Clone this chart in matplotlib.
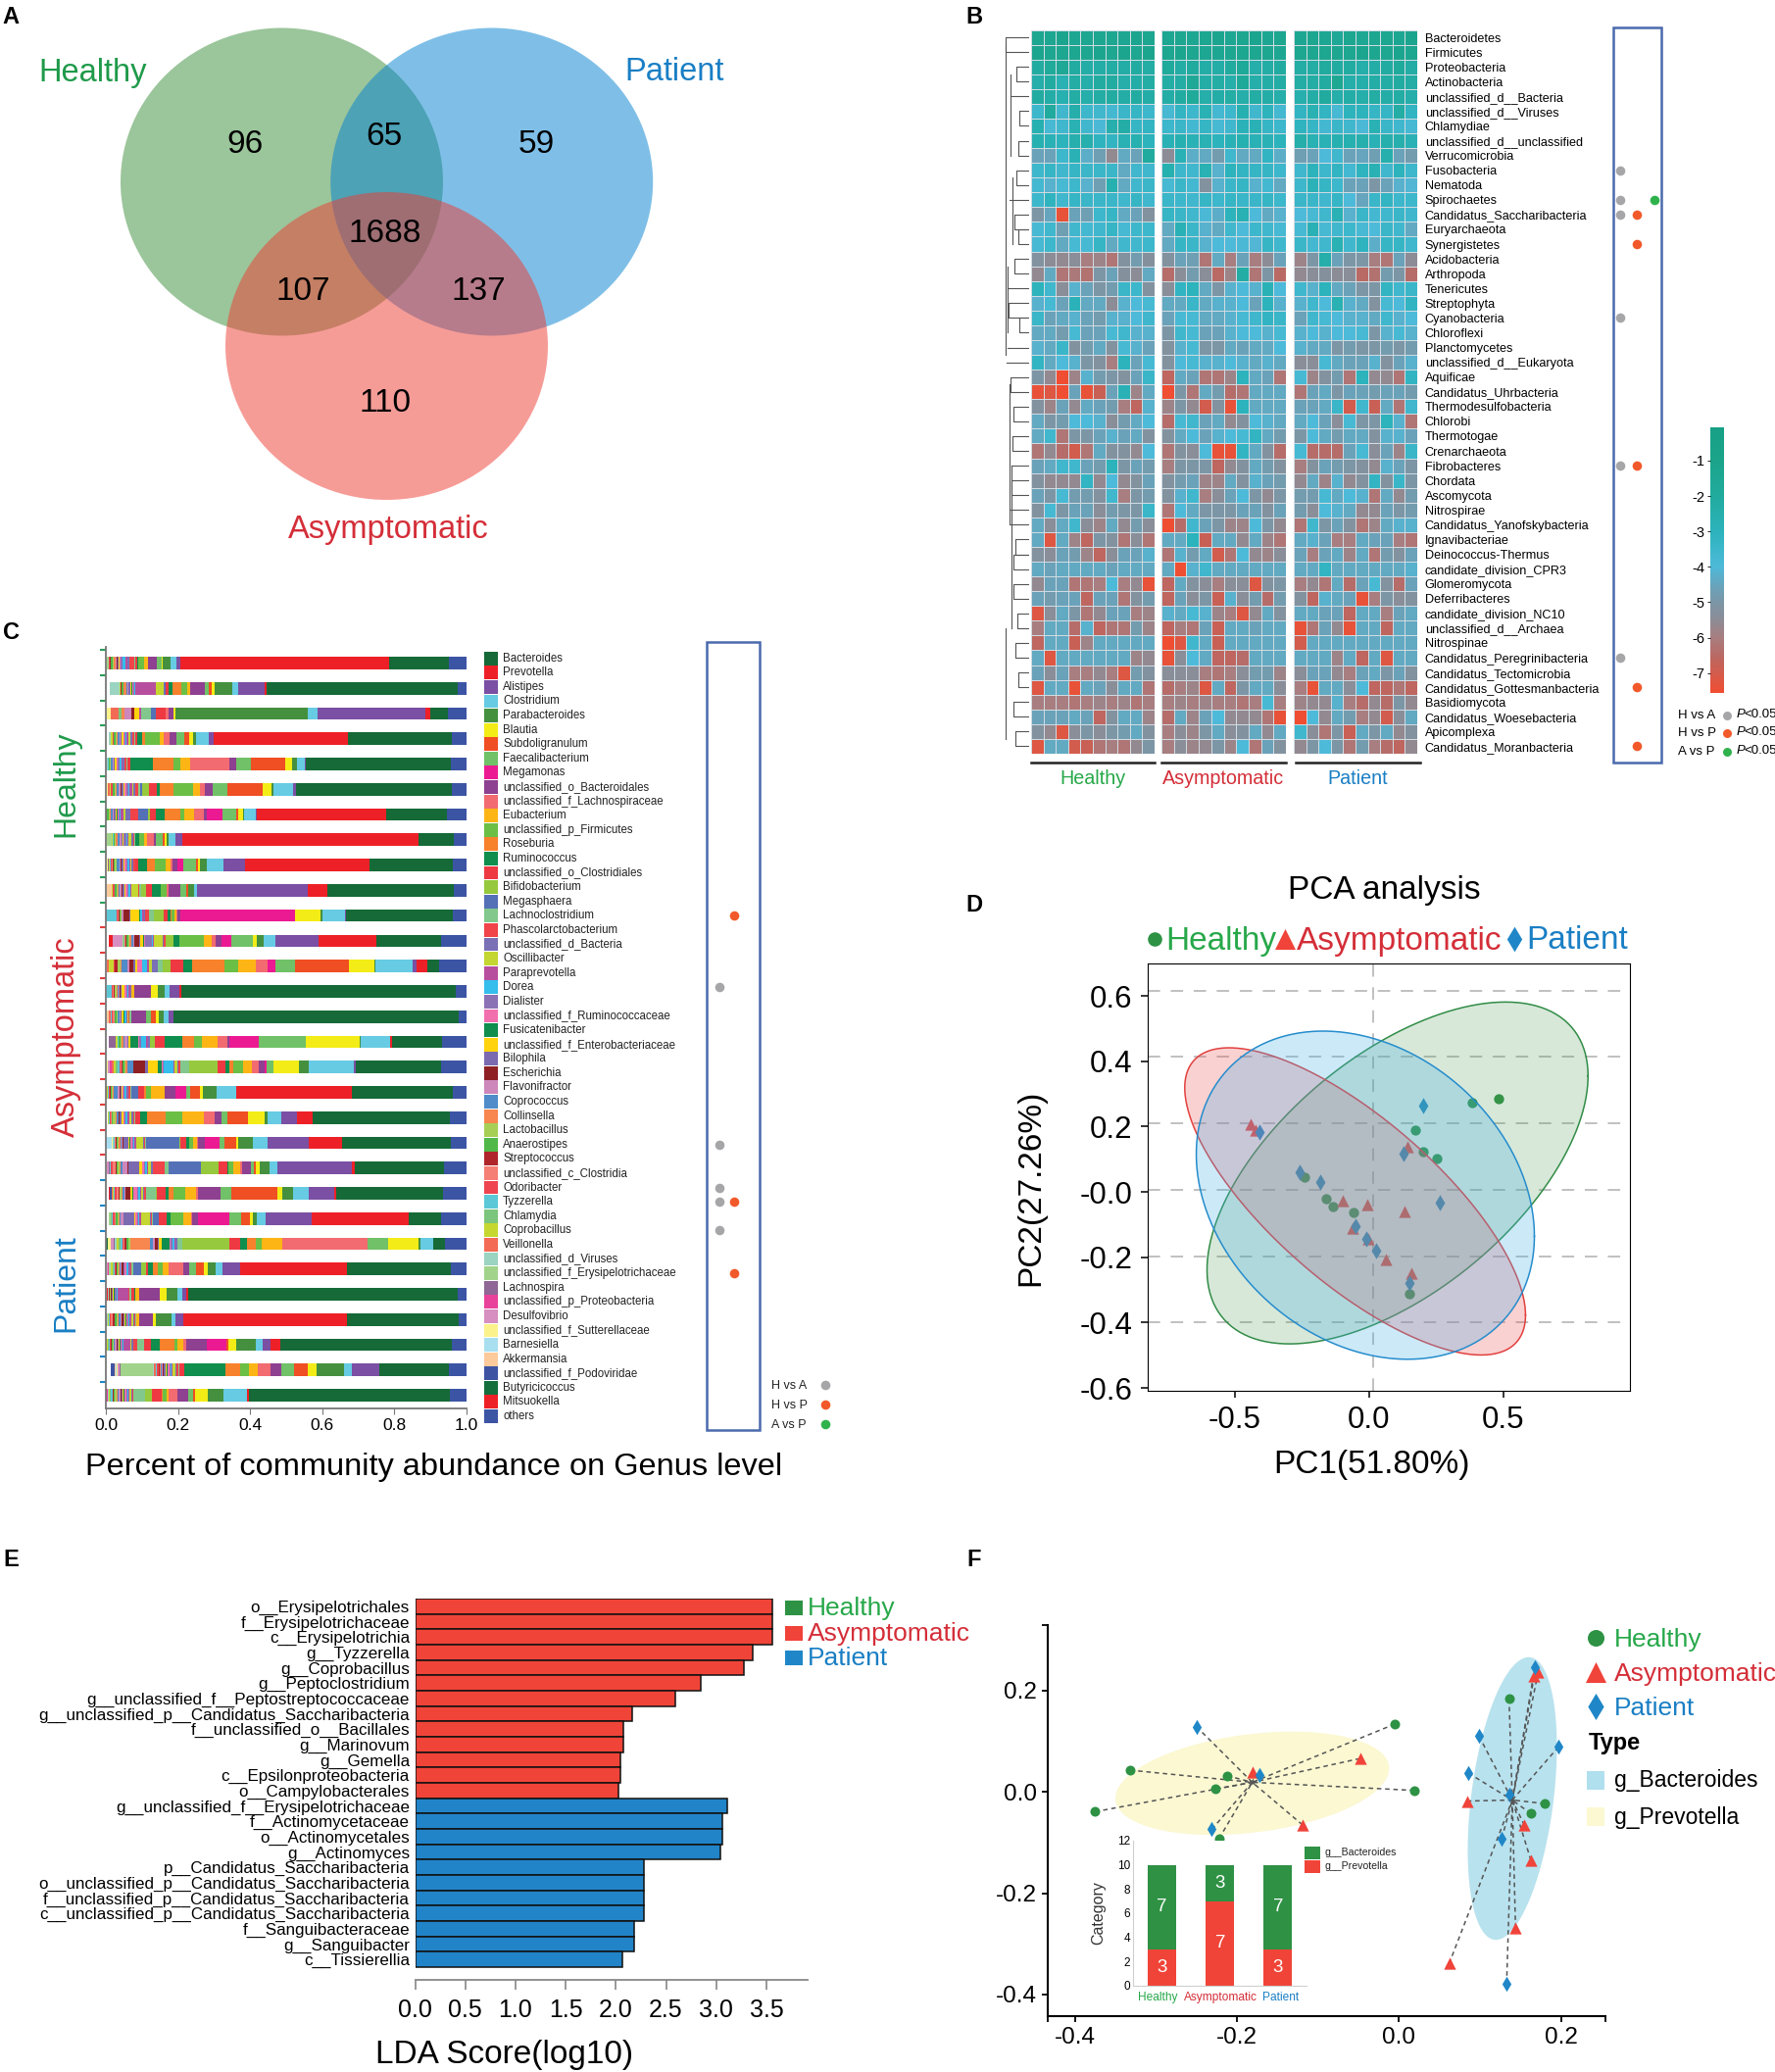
import numpy as np
import matplotlib
matplotlib.use('Agg')
import matplotlib.pyplot as plt
from matplotlib.colors import LinearSegmentedColormap, Normalize
from matplotlib.colorbar import ColorbarBase
from matplotlib.patches import Ellipse, Rectangle

plt.rcParams['font.family'] = ['Liberation Sans', 'DejaVu Sans']

W, H = 1811, 2114
GREEN, RED, BLUE = '#27a84a', '#d42e38', '#1a7fc4'
M_GREEN, M_RED, M_BLUE = '#2e9244', '#f0433a', '#1f87c8'
DOT_GREY, DOT_ORANGE, DOT_GREEN = '#a6a6a8', '#f2592a', '#2fb24c'

# ---- panel A
venn_names = ['Healthy', 'Patient', 'Asymptomatic']
venn_counts = ['96', '65', '59', '1688', '107', '137', '110']

# ---- panel B
phyla = ['Bacteroidetes', 'Firmicutes', 'Proteobacteria', 'Actinobacteria', 'unclassified_d__Bacteria',
         'unclassified_d__Viruses', 'Chlamydiae', 'unclassified_d__unclassified', 'Verrucomicrobia',
         'Fusobacteria', 'Nematoda', 'Spirochaetes', 'Candidatus_Saccharibacteria', 'Euryarchaeota',
         'Synergistetes', 'Acidobacteria', 'Arthropoda', 'Tenericutes', 'Streptophyta', 'Cyanobacteria',
         'Chloroflexi', 'Planctomycetes', 'unclassified_d__Eukaryota', 'Aquificae', 'Candidatus_Uhrbacteria',
         'Thermodesulfobacteria', 'Chlorobi', 'Thermotogae', 'Crenarchaeota', 'Fibrobacteres', 'Chordata',
         'Ascomycota', 'Nitrospirae', 'Candidatus_Yanofskybacteria', 'Ignavibacteriae', 'Deinococcus-Thermus',
         'candidate_division_CPR3', 'Glomeromycota', 'Deferribacteres', 'candidate_division_NC10',
         'unclassified_d__Archaea', 'Nitrospinae', 'Candidatus_Peregrinibacteria', 'Candidatus_Tectomicrobia',
         'Candidatus_Gottesmanbacteria', 'Basidiomycota', 'Candidatus_Woesebacteria', 'Apicomplexa',
         'Candidatus_Moranbacteria']

# log abundance x -10, one row per phylum, 10 samples per group
heat_tenths = [
    [13,13,12,14,13,13,13,14,12,13, 14,13,14,13,12,14,13,12,14,13, 14,13,14,16,13,15,13,13,14,12],
    [12,13,13,13,13,12,13,12,13,12, 13,12,13,14,14,13,13,13,13,14, 13,13,13,13,13,12,13,13,12,13],
    [21,18,16,21,23,23,22,23,21,22, 19,22,20,23,23,20,17,24,22,21, 22,22,20,21,21,24,23,21,19,22],
    [24,21,27,22,24,21,21,24,23,22, 22,22,16,23,22,24,17,24,23,22, 22,22,21,15,24,24,23,22,21,22],
    [21,23,26,22,24,22,21,23,21,23, 23,21,18,24,23,22,24,22,23,24, 25,23,20,24,23,24,22,23,22,24],
    [35,20,36,24,35,36,37,34,33,35, 38,32,35,27,37,35,26,36,30,37, 32,27,32,38,30,30,33,33,22,32],
    [26,38,36,27,36,39,25,23,33,32, 35,34,37,33,38,36,29,28,33,35, 31,33,37,34,36,39,27,34,36,38],
    [26,28,30,25,25,31,32,27,26,30, 28,26,28,27,30,28,26,28,28,30, 24,27,28,26,26,25,28,25,25,28],
    [46,46,35,28,43,47,56,44,46,20, 55,28,43,44,48,36,44,44,32,43, 47,46,40,36,46,45,47,25,46,48],
    [35,33,36,33,34,34,34,44,36,36, 26,35,36,27,42,30,32,33,33,35, 36,30,35,32,37,31,27,36,30,35],
    [37,42,38,35,42,47,26,44,36,34, 38,34,37,52,42,34,33,42,37,44, 35,29,33,35,46,46,50,46,42,41],
    [35,31,36,33,34,34,34,36,33,36, 34,35,36,33,35,33,34,34,33,35, 34,34,36,33,40,45,34,32,35,35],
    [50,45,74,46,47,35,33,44,46,52, 33,34,36,39,43,30,27,40,44,42, 40,38,36,28,42,34,37,36,34,36],
    [38,36,47,36,37,36,33,38,35,35, 44,28,34,42,44,36,40,35,36,38, 38,28,38,36,35,38,40,34,36,44],
    [38,35,44,38,38,33,44,36,36,35, 44,33,34,42,40,40,39,41,33,36, 34,37,36,27,36,31,43,33,33,36],
    [52,55,56,54,60,58,62,52,48,53, 52,46,47,62,44,60,46,60,55,46, 58,50,24,46,50,50,60,62,46,55],
    [56,44,62,61,63,50,46,53,55,44, 64,54,48,54,65,58,22,62,50,65, 56,54,53,55,54,65,63,48,50,64],
    [30,36,54,42,46,50,48,34,35,52, 54,32,30,44,50,42,40,42,28,40, 36,42,30,44,46,50,50,32,36,34],
    [42,38,46,29,44,44,55,42,40,38, 44,44,34,44,42,42,40,46,30,42, 42,36,40,27,42,44,52,38,40,32],
    [34,46,44,42,46,48,42,42,40,36, 46,38,38,44,44,42,38,36,32,34, 46,36,38,40,42,42,44,36,42,40],
    [44,44,48,38,46,46,38,36,42,42, 50,36,38,46,46,42,40,40,42,38, 42,40,42,40,40,38,50,42,38,42],
    [42,44,34,52,48,44,52,38,42,46, 52,42,38,50,50,44,46,44,44,40, 42,44,44,50,48,50,50,48,50,48],
    [32,44,40,42,50,52,60,30,46,38, 52,40,38,42,42,40,42,44,42,44, 54,54,38,44,46,46,42,52,46,42],
    [50,56,76,58,42,48,50,52,46,34, 66,44,46,62,62,58,30,44,46,62, 38,58,52,48,62,30,56,56,62,32],
    [74,72,76,46,74,68,46,28,58,44, 76,50,62,44,48,64,62,44,44,44, 62,46,44,50,46,46,48,46,46,48],
    [52,58,46,56,44,46,48,60,66,42, 58,50,56,70,52,74,30,44,44,44, 46,46,44,34,70,36,68,44,62,36],
    [44,50,48,40,40,42,54,48,44,40, 64,38,36,46,44,56,52,40,42,44, 44,40,46,54,38,50,50,30,42,62],
    [44,36,62,50,50,46,42,46,44,52, 52,44,40,46,42,40,38,32,44,48, 50,40,44,48,44,44,52,42,42,46],
    [62,56,64,70,62,44,52,52,56,40, 62,52,54,40,74,74,32,44,52,64, 38,64,64,64,46,38,54,46,58,34],
    [46,44,36,36,46,48,30,50,46,48, 60,50,50,50,66,56,52,44,48,52, 60,52,46,48,50,52,56,42,46,50],
    [52,56,56,56,32,56,40,56,52,46, 52,48,46,58,58,44,52,42,46,48, 56,44,58,42,56,52,32,52,34,50],
    [46,50,38,48,48,52,36,60,50,48, 52,42,36,60,54,46,40,50,56,50, 48,48,38,44,40,42,62,44,56,48],
    [52,38,50,46,46,54,48,50,50,34, 62,40,44,50,50,50,46,46,52,46, 48,54,40,42,44,56,56,46,50,48],
    [44,54,44,36,54,58,44,56,48,54, 76,64,36,46,50,58,58,40,50,56, 62,36,50,46,52,62,58,44,42,42],
    [44,72,44,58,66,50,52,62,54,62, 44,44,30,68,44,44,56,44,58,62, 44,42,46,60,60,44,46,46,60,62],
    [52,54,46,48,58,66,54,46,46,42, 62,42,48,44,70,62,40,56,58,54, 46,60,46,44,58,44,62,48,52,46],
    [44,46,44,44,44,44,46,44,44,44, 44,76,42,36,44,44,44,44,44,44, 44,44,32,44,44,44,44,44,44,42],
    [56,46,46,62,62,60,40,60,56,74, 66,44,52,54,60,54,54,72,52,50, 60,56,62,44,64,46,38,52,64,46],
    [46,48,46,46,66,46,46,62,52,48, 66,46,54,50,68,42,54,48,64,48, 52,66,42,44,46,74,60,50,54,52],
    [72,54,44,50,62,56,46,46,60,58, 42,44,38,42,58,60,72,56,44,52, 44,44,46,46,66,44,44,60,46,44],
    [60,44,44,64,42,66,62,62,48,58, 66,60,62,46,68,44,44,46,44,44, 74,62,46,56,74,44,44,66,44,44],
    [66,44,44,68,58,44,44,44,44,44, 76,72,36,44,68,44,44,44,44,44, 70,44,44,44,44,44,44,44,44,44],
    [44,72,44,44,44,44,44,44,58,56, 74,54,40,44,66,66,64,44,44,44, 44,44,44,58,44,66,44,72,44,44],
    [46,54,46,60,60,56,60,72,48,52, 54,54,54,60,62,60,54,48,48,58, 54,46,46,56,60,46,44,50,46,52],
    [72,44,44,74,44,46,54,44,44,62, 64,60,58,72,44,66,50,44,44,54, 60,74,44,44,54,40,66,66,62,66],
    [60,60,60,62,60,58,60,58,62,60, 60,58,60,58,60,60,62,60,38,60, 58,56,56,42,60,64,56,64,50,56],
    [46,46,46,44,46,66,52,44,44,58, 64,44,58,46,40,56,56,56,62,74, 76,40,56,44,48,60,56,70,54,44],
    [52,56,72,54,50,54,50,48,44,52, 60,54,58,50,44,54,52,44,56,44, 36,54,62,50,68,44,50,44,56,52],
    [72,44,44,70,68,62,60,62,56,50, 60,54,58,56,50,58,40,62,46,52, 56,50,40,50,62,48,60,64,66,56],
]
phyla_sig = [('Fusobacteria', 'H vs A'), ('Spirochaetes', 'H vs A'), ('Spirochaetes', 'A vs P'),
             ('Candidatus_Saccharibacteria', 'H vs A'), ('Candidatus_Saccharibacteria', 'H vs P'),
             ('Synergistetes', 'H vs P'), ('Cyanobacteria', 'H vs A'), ('Fibrobacteres', 'H vs A'),
             ('Fibrobacteres', 'H vs P'), ('Candidatus_Peregrinibacteria', 'H vs A'),
             ('Candidatus_Gottesmanbacteria', 'H vs P'), ('Candidatus_Moranbacteria', 'H vs P')]
# top row, bottom row, depth in page pixels
dendro_pairs = [(0, 1, 1026), (2, 3, 1037), (5, 6, 1040), (7, 8, 1039), (9, 10, 1037), (12, 13, 1035),
                (13, 14, 1039), (15, 16, 1035), (18, 19, 1029), (19, 20, 1040), (23, 24, 1031), (25, 26, 1034),
                (27, 28, 1033), (30, 31, 1032), (34, 35, 1036), (35, 36, 1034), (37, 38, 1034), (39, 40, 1038),
                (41, 42, 1036), (43, 44, 1039), (45, 46, 1034), (47, 48, 1036)]
dendro_stems = [(4, 1031), (11, 1030), (17, 1028), (21, 1028), (22, 1027), (29, 1032), (32, 1031), (33, 1031)]
dendro_trunks = [(0.5, 21.5, 1026), (2.5, 8, 1031), (9.5, 14, 1033), (15.5, 20, 1028), (23.5, 33, 1030),
                 (29, 40, 1032), (40, 47.5, 1026)]

# ---- panel C
genera = ['Bacteroides', 'Prevotella', 'Alistipes', 'Clostridium', 'Parabacteroides', 'Blautia', 'Subdoligranulum',
          'Faecalibacterium', 'Megamonas', 'unclassified_o_Bacteroidales', 'unclassified_f_Lachnospiraceae',
          'Eubacterium', 'unclassified_p_Firmicutes', 'Roseburia', 'Ruminococcus', 'unclassified_o_Clostridiales',
          'Bifidobacterium', 'Megasphaera', 'Lachnoclostridium', 'Phascolarctobacterium', 'unclassified_d_Bacteria',
          'Oscillibacter', 'Paraprevotella', 'Dorea', 'Dialister', 'unclassified_f_Ruminococcaceae',
          'Fusicatenibacter', 'unclassified_f_Enterobacteriaceae', 'Bilophila', 'Escherichia', 'Flavonifractor',
          'Coprococcus', 'Collinsella', 'Lactobacillus', 'Anaerostipes', 'Streptococcus', 'unclassified_c_Clostridia',
          'Odoribacter', 'Tyzzerella', 'Chlamydia', 'Coprobacillus', 'Veillonella', 'unclassified_d_Viruses',
          'unclassified_f_Erysipelotrichaceae', 'Lachnospira', 'unclassified_p_Proteobacteria', 'Desulfovibrio',
          'unclassified_f_Sutterellaceae', 'Barnesiella', 'Akkermansia', 'unclassified_f_Podoviridae',
          'Butyricicoccus', 'Mitsuokella', 'others']
genus_colors = ['#156a37', '#ee2027', '#7b4fa3', '#66cbe3', '#45903f', '#f3ec17', '#f04e23', '#70c167', '#ec1a92',
                '#8e4091', '#f26b70', '#fdb515', '#6bbf45', '#f8812c', '#0f8e4d', '#ee3942', '#96c93d', '#5471b7',
                '#82c88c', '#f0434a', '#7a70b5', '#c3d631', '#b84f9e', '#35bdec', '#8b72b5', '#f26fae', '#0f8e4d',
                '#ffd30d', '#7b6ab0', '#8e2024', '#cd87bb', '#4f8cc9', '#f8864f', '#a7cf55', '#50b848', '#b0252a',
                '#f57f74', '#ef4550', '#5cc8d7', '#7cc57c', '#c6d82f', '#f36a55', '#9bd4c0', '#a1d48a', '#8f6695',
                '#e9429a', '#d68fc0', '#fbf28c', '#a8dff0', '#fdca9b', '#3e54a3', '#156f3d', '#ee2027', '#3c54a4']
# per mille for each of the 30 samples, top to bottom
others_share = [49, 24, 53, 42, 44, 42, 54, 34, 39, 36, 39, 70, 77, 29, 23, 67, 70, 37, 47, 44, 63, 64, 70, 60, 44,
                25, 22, 42, 50, 47]
# Bacteroides ... Megasphaera
main_share = [
    [166,578,12,15,24,3,0,12,0,26,0,10,15,0,5,4,0,0],
    [532,4,73,17,50,7,7,12,0,41,0,8,16,25,11,9,0,2],
    [47,14,299,28,368,3,0,0,0,15,9,0,0,0,0,25,0,16],
    [287,374,13,34,9,12,13,20,0,21,15,12,40,8,14,5,0,0],
    [401,0,5,20,13,20,95,41,0,20,107,28,19,56,63,10,0,0],
    [431,0,9,53,5,27,97,41,0,20,14,20,53,38,10,22,17,6],
    [170,359,2,31,4,15,5,36,45,9,25,27,11,44,24,18,5,27],
    [98,656,19,20,4,6,6,20,0,4,20,8,12,0,12,0,0,0],
    [229,346,60,47,18,7,5,36,14,14,7,12,31,22,24,9,0,0],
    [350,55,306,10,16,0,5,15,0,33,5,0,17,0,26,14,15,0],
    [295,0,3,64,5,70,0,0,318,9,3,4,8,3,8,12,26,0],
    [180,160,120,34,18,10,0,61,28,14,13,20,68,0,18,0,21,0],
    [33,29,11,104,2,71,148,54,23,0,34,49,38,88,25,34,23,0],
    [763,6,27,12,21,19,0,0,0,44,0,9,0,0,0,0,0,0],
    [789,0,16,12,15,6,14,15,0,41,0,0,0,0,0,0,0,0],
    [141,3,0,83,2,150,0,131,82,4,28,43,23,33,48,27,13,0],
    [236,0,6,127,26,71,0,19,5,16,20,23,29,9,11,24,77,0],
    [281,321,0,55,38,7,28,10,31,30,0,38,12,7,0,16,0,19],
    [379,44,45,36,8,48,57,16,0,19,30,60,46,52,18,14,0,0],
    [301,94,112,43,40,5,34,13,41,18,3,11,12,0,8,15,3,91],
    [248,7,207,22,27,10,5,10,0,24,5,20,12,0,3,26,49,89],
    [298,6,70,43,30,15,128,28,0,63,5,31,31,14,9,24,3,0],
    [90,269,129,24,12,8,24,31,88,16,3,21,37,0,10,23,0,15],
    [33,0,0,35,5,85,0,58,0,0,236,57,16,24,20,30,130,0],
    [287,296,50,20,20,13,21,19,0,15,41,16,15,12,15,6,13,23],
    [748,5,12,11,32,19,0,0,0,55,0,11,0,0,5,8,0,0],
    [309,455,22,10,43,10,0,0,0,36,0,9,0,0,0,0,0,0],
    [475,28,22,17,56,22,5,0,54,56,10,14,9,42,24,18,0,0],
    [191,0,77,23,74,26,37,35,0,30,35,25,25,42,112,14,0,0],
    [558,3,0,67,43,35,5,14,0,30,24,7,10,3,0,26,21,0],
]
# Lachnoclostridium ... Mitsuokella
tail_share = [
    [3,14,5,0,6, 8,4,4,0,2, 3,3,3,0,6, 2,5,2,2,1, 0,0,2,0,0, 3,0,2,0,2, 0,0,0,0,0],
    [0,0,2,23,56, 2,4,2,3,2, 5,2,2,2,10, 0,3,3,0,2, 0,0,2,0,27, 0,0,0,0,0, 0,0,0,0,0],
    [27,0,0,0,5, 0,0,0,0,12, 0,10,18,0,8, 0,0,0,0,0, 0,8,0,21,0, 0,0,0,0,11, 0,0,0,0,0],
    [3,5,6,6,4, 3,4,3,0,3, 4,0,3,5,3, 3,4,2,0,3, 0,0,3,0,8, 0,0,0,0,0, 0,0,0,0,0],
    [2,5,5,0,4, 6,3,3,2,3, 4,0,2,5,2, 2,2,0,2,0, 2,0,0,0,4, 0,0,0,0,0, 0,0,0,0,0],
    [5,8,6,3,8, 4,6,5,0,3, 3,3,6,5,3, 4,4,2,0,3, 2,0,2,6,0, 0,0,0,0,3, 0,0,0,0,0],
    [0,21,15,6,6, 3,4,2,3,3, 4,0,5,3,4, 3,5,2,0,3, 2,0,3,0,0, 0,0,0,0,0, 0,0,0,0,0],
    [3,4,5,6,5, 3,6,2,0,2, 3,0,5,6,4, 3,2,2,0,0, 2,0,3,0,0, 14,0,0,0,0, 0,0,0,0,0],
    [0,4,6,3,3, 4,5,3,0,3, 5,3,3,8,2, 3,4,2,3,3, 2,0,3,0,0, 0,4,0,0,3, 0,0,0,0,0],
    [5,4,0,17,3, 6,3,5,0,3, 5,2,6,4,3, 3,3,2,0,4, 0,0,3,0,0, 0,0,0,0,0, 0,13,0,0,0],
    [15,9,3,0,5, 6,0,0,3,25, 3,17,3,0,0, 3,4,2,2,5, 25,0,0,0,0, 0,0,0,6,0, 0,0,0,0,0],
    [0,5,4,23,3, 3,18,4,3,7, 4,12,4,6,4, 3,5,3,3,0, 0,2,0,0,0, 3,0,0,27,0, 0,0,0,0,12],
    [14,0,17,8,4, 15,0,13,0,4, 8,10,6,15,4, 6,0,8,0,3, 0,0,16,3,0, 0,0,0,0,0, 0,0,0,0,0],
    [0,0,3,0,4, 5,3,3,2,6, 3,3,3,4,3, 3,2,2,3,3, 14,0,0,0,0, 0,0,0,0,0, 0,0,0,0,0],
    [4,3,0,3,2, 5,2,0,3,5, 3,0,3,4,0, 3,4,2,5,3, 3,0,0,5,0, 0,0,0,0,0, 0,4,0,0,0],
    [0,0,5,0,5, 16,3,3,24,3, 5,0,7,3,4, 4,6,0,0,0, 3,0,4,0,0, 0,19,0,0,0, 0,0,0,0,0],
    [24,6,3,8,3, 26,3,3,13,27, 8,33,0,15,6, 3,5,3,3,3, 5,5,5,6,0, 0,0,5,5,5, 0,0,3,0,0],
    [4,3,3,0,3, 5,3,3,0,3, 4,3,3,12,3, 3,3,2,0,3, 3,0,3,0,0, 0,0,5,0,0, 0,0,0,0,0],
    [4,3,4,6,6, 4,3,4,0,4, 5,3,0,5,3, 8,3,0,3,3, 3,0,3,0,0, 0,0,0,0,0, 0,0,0,0,0],
    [3,3,4,18,5, 3,3,5,3,4, 12,3,3,3,5, 3,3,2,3,0, 3,0,0,0,3, 0,0,0,0,3, 15,0,0,0,0],
    [10,33,6,8,3, 6,3,3,0,8, 30,3,14,6,3, 4,3,3,10,4, 3,0,0,0,0, 0,3,0,5,0, 0,0,0,0,0],
    [28,4,3,6,3, 6,3,10,3,4, 0,15,3,5,3, 4,0,3,5,5, 3,0,3,3,0, 0,0,0,0,0, 0,0,5,0,4],
    [3,3,3,24,6, 3,3,3,0,3, 32,0,6,4,3, 3,4,0,4,4, 3,3,0,0,0, 6,0,0,0,0, 0,0,0,0,0],
    [14,0,4,0,3, 5,5,3,22,8, 3,9,5,8,54, 6,5,5,4,3, 5,6,5,0,6, 0,3,0,8,8, 0,0,0,9,0],
    [3,3,3,0,4, 4,2,3,0,0, 5,3,3,4,3, 3,3,2,0,3, 3,3,3,2,2, 2,2,2,3,0, 0,0,0,0,0],
    [5,3,0,0,29, 4,3,2,2,2, 3,3,0,0,0, 3,0,2,0,0, 0,0,0,0,3, 0,0,0,0,0, 0,0,0,0,4],
    [4,3,3,5,4, 3,3,3,3,3, 3,5,3,4,3, 3,6,5,4,4, 3,0,3,0,3, 0,0,2,0,0, 0,0,0,0,0],
    [19,13,3,3,19, 3,3,3,3,3, 3,3,3,3,0, 3,3,2,0,3, 3,3,3,3,0, 0,0,0,0,0, 0,0,0,0,0],
    [3,5,5,6,4, 3,3,5,3,3, 3,3,3,3,3, 0,0,3,0,5, 3,0,0,5,4, 88,3,0,5,3, 4,3,11,0,0],
    [32,3,3,5,3, 3,3,3,3,4, 3,3,5,3,3, 3,3,3,2,0, 3,3,3,0,3, 0,0,6,0,0, 0,0,0,0,0],
]
sample_ticks = ['#2e9e5b'] * 11 + ['#e0403e'] * 10 + ['#1f87c8'] * 9
genus_sig = [('Lachnoclostridium', 'H vs P'), ('Dorea', 'H vs A'), ('Anaerostipes', 'H vs A'),
             ('Odoribacter', 'H vs A'), ('Tyzzerella', 'H vs A'), ('Tyzzerella', 'H vs P'),
             ('Coprobacillus', 'H vs A'), ('unclassified_f_Erysipelotrichaceae', 'H vs P')]

# ---- panel D
pca_healthy_x = [.482, .384, .174, .200, .254, -.242, -.162, -.135, -.059, .149]
pca_healthy_y = [.284, .273, .190, .122, .103, .045, -.020, -.044, -.062, -.311]
pca_asym_x = [-.442, -.423, .144, -.097, -.005, .132, -.062, -.002, .062, .158]
pca_asym_y = [.207, .188, .137, -.027, -.038, -.060, -.111, -.144, -.206, -.250]
pca_patient_x = [-.407, .203, .128, -.257, -.181, .263, -.052, -.011, .027, .151]
pca_patient_y = [.184, .264, .118, .059, .029, -.032, -.106, -.144, -.180, -.279]
# centre x, centre y, half width, half height, x offset of the top point (fraction of half width)
pca_ellipse_healthy = [.106, .058, .710, .523, .567]
pca_ellipse_asym = [-.052, -.029, .635, .470, -.74]
pca_ellipse_patient = [-.014, -.010, .630, .502, -.25]
pca_hlines = [.616, .413, .209, .006, -.197, -.400]
pca_vline = .014

# ---- panel E
lda_asym_names = ['o__Erysipelotrichales', 'f__Erysipelotrichaceae', 'c__Erysipelotrichia', 'g__Tyzzerella',
                  'g__Coprobacillus', 'g__Peptoclostridium', 'g__unclassified_f__Peptostreptococcaceae',
                  'g__unclassified_p__Candidatus_Saccharibacteria', 'f__unclassified_o__Bacillales', 'g__Marinovum',
                  'g__Gemella', 'c__Epsilonproteobacteria', 'o__Campylobacterales']
lda_asym_values = [3.556, 3.556, 3.556, 3.369, 3.28, 2.846, 2.597, 2.167, 2.08, 2.073, 2.049, 2.042, 2.03]
lda_patient_names = ['g__unclassified_f__Erysipelotrichaceae', 'f__Actinomycetaceae', 'o__Actinomycetales',
                     'g__Actinomyces', 'p__Candidatus_Saccharibacteria', 'o__unclassified_p__Candidatus_Saccharibacteria',
                     'f__unclassified_p__Candidatus_Saccharibacteria', 'c__unclassified_p__Candidatus_Saccharibacteria',
                     'f__Sanguibacteraceae', 'g__Sanguibacter', 'c__Tissierellia']
lda_patient_values = [3.113, 3.064, 3.064, 3.045, 2.285, 2.285, 2.285, 2.285, 2.186, 2.186, 2.061]

# ---- panel F
prev_centre = [-.181, .019]
prev_healthy_x = [-.005, -.332, -.212, -.226, -.375, .019, -.222]
prev_healthy_y = [.134, .043, .032, .006, -.039, .003, -.092]
prev_asym_x = [-.181, -.048, -.119]
prev_asym_y = [.039, .066, -.065]
prev_patient_x = [-.250, -.172, -.231]
prev_patient_y = [.129, .033, -.074]
bact_centre = [.140, -.016]
bact_healthy_x = [.136, .180, .163]
bact_healthy_y = [.184, -.023, -.043]
bact_asym_x = [.172, .167, .084, .155, .163, .144, .062]
bact_asym_y = [.237, .229, -.018, -.066, -.135, -.269, -.339]
bact_patient_x = [.168, .099, .197, .086, .137, .127, .133]
bact_patient_y = [.247, .110, .089, .037, -.005, -.092, -.379]
prev_ellipse = [-.181, .017, .169, .102, .29]
bact_ellipse = [.140, -.013, .055, .279, .367]
inset_groups = ['Healthy', 'Asymptomatic', 'Patient']
inset_prevotella = [3, 7, 3]
inset_bacteroides = [7, 3, 7]


def px_axes(x0, y0, x1, y1, **kw):
    return fig.add_axes([x0 / W, 1 - y1 / H, (x1 - x0) / W, (y1 - y0) / H], **kw)


def ellipse_xy(p):
    t = np.linspace(0, 2 * np.pi, 300)
    return p[0] + p[2] * np.cos(t), p[1] + p[3] * np.cos(t - np.arccos(p[4]))


fig = plt.figure(figsize=(W / 100, H / 100), dpi=100)
page = px_axes(0, 0, W, H, zorder=20)
page.set_xlim(0, W)
page.set_ylim(H, 0)
page.axis('off')
page.patch.set_alpha(0)

for lab, x, y in [('A', 11, 18), ('B', 994, 17), ('C', 11, 645), ('D', 994, 923), ('E', 11, 1591), ('F', 994, 1591)]:
    page.text(x, y, lab, fontsize=17, fontweight='bold', ha='center', va='center')

# ---- A
for (cx, cy), col in zip([(287.5, 185.5), (501.7, 185.5), (394.5, 353)], ['#398d39', '#0181d1', '#ef3b31']):
    page.add_patch(Ellipse((cx, cy), 329, 314, fc=col, ec='none', alpha=.5))
for txt, x, y in zip(venn_counts, [250, 391.6, 547, 392.8, 309.7, 488.4, 392.8], [148, 140, 148, 238.5, 297, 297, 411]):
    page.text(x, y, txt, fontsize=24, ha='center', va='center')
page.text(95, 74, venn_names[0], color='#1f9a4a', fontsize=23.5, ha='center', va='center')
page.text(688, 74, venn_names[1], color=BLUE, fontsize=23.5, ha='center', va='center')
page.text(396, 540, venn_names[2], color=RED, fontsize=23.5, ha='center', va='center')

# ---- B
heat = -np.array(heat_tenths) / 10
vmin, vmax = -7.56, -0.06
nodes = [(-7.56, '#f04e32'), (-6.6, '#bd6660'), (-6, '#a87e80'), (-5.5, '#8c8c96'), (-5, '#7c96a6'),
         (-4.5, '#66a5bd'), (-4, '#4ebad9'), (-3, '#2cb3bc'), (-2, '#21ab9e'), (-1, '#1ba48a'), (-.06, '#17a085')]
cmap = LinearSegmentedColormap.from_list('hm', [((v - vmin) / (vmax - vmin), c) for v, c in nodes])
top, bottom = 30.5, 769
for k, (x0, x1) in enumerate([(1052, 1178), (1185, 1312), (1320, 1446)]):
    ax = px_axes(x0, top, x1, bottom)
    ax.pcolormesh(heat[:, k * 10:(k + 1) * 10], cmap=cmap, vmin=vmin, vmax=vmax, edgecolors='#d0dbe2', linewidth=.4)
    ax.set_ylim(49, 0)
    ax.set_xticks([])
    for s in ax.spines.values():
        s.set_visible(False)
    if k == 2:
        ax.yaxis.tick_right()
        ax.set_yticks(np.arange(49) + .5, phyla, fontsize=9.1)
        ax.tick_params(axis='y', length=0, pad=5.5)
    else:
        ax.set_yticks([])

den = px_axes(1022, top, 1050, bottom)
den.set_xlim(1022, 1050)
den.set_ylim(48.5, -.5)
den.axis('off')
for a, b, d in dendro_pairs:
    den.plot([1049, d, d, 1049], [a, a, b, b], color='#555555', lw=.8)
for r, d in dendro_stems:
    den.plot([d, 1049], [r, r], color='#555555', lw=.8)
for a, b, d in dendro_trunks:
    den.plot([d, d], [a, b], color='#555555', lw=.8)

sig_b = px_axes(1645.6, top, 1695, bottom)
sig_b.set_xlim(1645.6, 1695)
sig_b.set_ylim(48.5, -.5)
sig_b.axis('off')
test_colors = {'H vs A': DOT_GREY, 'H vs P': DOT_ORANGE, 'A vs P': DOT_GREEN}
test_x_b = {'H vs A': 1653, 'H vs P': 1670, 'A vs P': 1688}
for name, test in phyla_sig:
    sig_b.scatter(test_x_b[test], phyla.index(name), s=48, color=test_colors[test], lw=0)
page.add_patch(Rectangle((1645.6, 28), 49.4, 750, fc='none', ec='#4a6aad', lw=1.8))

cax = px_axes(1745, 436, 1758.5, 707)
cb = ColorbarBase(cax, cmap=cmap, norm=Normalize(vmin, vmax), ticks=[-1, -2, -3, -4, -5, -6, -7], ticklocation='left')
cb.outline.set_visible(False)
cb.ax.tick_params(length=2, width=.6, labelsize=10.5, pad=2)
cb.ax.set_yticklabels(['-1', '-2', '-3', '-4', '-5', '-6', '-7'])

for (test, y) in zip(test_colors, [730, 748, 767]):
    page.text(1712, y, test, fontsize=9.5, va='center')
    page.scatter(1761.5, y, s=42, color=test_colors[test], lw=0)
    page.text(1772, y - 1, 'P', fontsize=9.5, va='center', fontstyle='italic')
    page.text(1779, y - 1, '<0.05', fontsize=9.5, va='center')
for x0, x1, lab, col in [(1052, 1178, 'Healthy', GREEN), (1185, 1312, 'Asymptomatic', RED), (1322, 1449, 'Patient', BLUE)]:
    page.plot([x0, x1], [778, 778], color='#222222', lw=1.8)
    page.text((x0 + x1) / 2, 795, lab, color=col, fontsize=14.2, ha='center', va='center')

# ---- C
ax = px_axes(108.3, 660, 476, 1437)
shares = np.hstack([np.array(others_share)[:, None], np.array(main_share), np.array(tail_share)]) / 1000
stack_colors = [genus_colors[-1]] + genus_colors[:-1]
ys = np.arange(len(shares))
right = np.ones(len(shares))
for j in range(shares.shape[1]):
    ax.barh(ys, shares[:, j], left=right - shares[:, j], height=.493, color=stack_colors[j], lw=0)
    right = right - shares[:, j]
ax.set_xlim(0, 1)
ax.set_ylim(29.52, -.64)
ax.set_xticks(np.arange(0, 1.01, .2), ['0.0', '0.2', '0.4', '0.6', '0.8', '1.0'], fontsize=12.5)
ax.tick_params(axis='x', length=4, color='#777777', pad=3)
ax.set_yticks([])
# sample ticks are coloured by group
ax.hlines(ys - .52, -.016, 0, colors=sample_ticks, lw=1.5, clip_on=False)
for s in ['top', 'right']:
    ax.spines[s].set_visible(False)
for s in ['left', 'bottom']:
    ax.spines[s].set_color('#777777')
    ax.spines[s].set_linewidth(1.3)
ax.patch.set_alpha(0)
page.text(443, 1497, 'Percent of community abundance on Genus level', fontsize=23.4, ha='center', va='center')
page.text(67, 800, 'Healthy', color='#1f9a4a', fontsize=23, rotation=90, ha='center', va='center')
page.text(67, 1058, 'Asymptomatic', color=RED, fontsize=23.5, rotation=90, ha='center', va='center')
page.text(67, 1309, 'Patient', color=BLUE, fontsize=23, rotation=90, ha='center', va='center')

leg = px_axes(490, 664.4, 780, 1452.3)
leg.set_xlim(490, 780)
leg.set_ylim(53.5, -.5)
leg.axis('off')
leg.barh(np.arange(54), 14, left=494, height=.95, color=genus_colors, lw=0)
for i, g in enumerate(genera):
    leg.text(513, i, g, fontsize=8.3, va='center', color='#222222')
test_x_c = {'H vs A': 734, 'H vs P': 749}
for name, test in genus_sig:
    leg.scatter(test_x_c[test], genera.index(name), s=48, color=test_colors[test], lw=0)
page.add_patch(Rectangle((721, 655), 54, 804, fc='none', ec='#4a6aad', lw=1.8))
for test, y in zip(test_colors, [1414, 1434, 1454]):
    page.text(787, y, test, fontsize=9, va='center', color='#222222')
    page.scatter(842, y - 1, s=48, color=test_colors[test], lw=0)

# ---- D
ax = px_axes(1171, 983, 1663.5, 1418.8)
ax.set_xlim(-.825, .974)
ax.set_ylim(-.608, .699)
for v in pca_hlines:
    ax.axhline(v, color='#bbbbbb', lw=1.3, dashes=(7, 6), zorder=1)
ax.axvline(pca_vline, color='#bbbbbb', lw=1.3, dashes=(7, 6), zorder=1)
ax.scatter(pca_healthy_x, pca_healthy_y, s=55, marker='o', color=M_GREEN, lw=0, zorder=2)
ax.scatter(pca_asym_x, pca_asym_y, s=78, marker='^', color=M_RED, lw=0, zorder=2)
ax.scatter(pca_patient_x, pca_patient_y, s=70, marker='d', color=M_BLUE, lw=0, zorder=2)
for p, ec, fc, a in [(pca_ellipse_healthy, '#2e8b45', '#4c9a55', .22), (pca_ellipse_asym, '#e0403e', '#ee4a4a', .25),
                     (pca_ellipse_patient, '#1f87c8', '#49b0e8', .28)]:
    ex, ey = ellipse_xy(p)
    ax.plot(ex, ey, color=ec, lw=1.1, zorder=3)
    ax.fill(ex, ey, color=fc, alpha=a, lw=0, zorder=3)
ax.set_xticks([-.5, 0, .5], ['-0.5', '0.0', '0.5'], fontsize=22.5)
ax.set_yticks([.6, .4, .2, 0, -.2, -.4, -.6], ['0.6', '0.4', '0.2', '-0.0', '-0.2', '-0.4', '-0.6'], fontsize=22.5)
ax.tick_params(length=5, width=1.1, pad=6)
page.text(1412, 909, 'PCA analysis', fontsize=24, ha='center', va='center')
page.text(1399, 1495, 'PC1(51.80%)', fontsize=24, ha='center', va='center')
page.text(1052, 1212, 'PC2(27.26%)', fontsize=24, rotation=90, ha='center', va='center')
page.scatter(1178, 958, s=110, marker='o', color=M_GREEN, lw=0)
page.text(1189, 960, 'Healthy', color=GREEN, fontsize=24, va='center')
page.scatter(1311, 958, s=230, marker='^', color=M_RED, lw=0)
page.text(1323, 960, 'Asymptomatic', color=RED, fontsize=24, va='center')
page.scatter(1545, 958, s=170, marker='d', color=M_BLUE, lw=0)
page.text(1557, 960, 'Patient', color=BLUE, fontsize=24, va='center')

# ---- E
ax = px_axes(423.5, 1631, 824, 2020)
lda_names = lda_asym_names + lda_patient_names
lda_values = lda_asym_values + lda_patient_values
lda_colors = ['#f04438'] * len(lda_asym_values) + ['#2284c8'] * len(lda_patient_values)
ax.barh(np.arange(24), lda_values, height=1, color=lda_colors, edgecolor='#111111', lw=1.1)
ax.set_xlim(0, 3.911)
ax.set_ylim(24.32, -.5)
ax.set_yticks(np.arange(24), lda_names, fontsize=12.25)
ax.tick_params(axis='y', length=0, pad=4)
ax.set_xticks(np.arange(0, 3.6, .5), [f'{v:.1f}' for v in np.arange(0, 3.6, .5)], fontsize=18)
ax.tick_params(axis='x', length=7, color='#888888', width=1.2, pad=7)
for s in ['top', 'right', 'left']:
    ax.spines[s].set_visible(False)
ax.spines['bottom'].set_color('#888888')
ax.spines['bottom'].set_linewidth(1.3)
ax.patch.set_alpha(0)
page.text(515, 2097, 'LDA Score(log10)', fontsize=24, ha='center', va='center')
for lab, y, sw, col in [('Healthy', 1640, M_GREEN, GREEN), ('Asymptomatic', 1666, M_RED, RED), ('Patient', 1691, M_BLUE, BLUE)]:
    page.add_patch(Rectangle((801, y - 7.5), 18, 15, fc=sw, ec='none'))
    page.text(824, y + 1, lab, color=col, fontsize=19, va='center')

# ---- F
ax = px_axes(1069.4, 1657.7, 1637.6, 2057)
ax.set_xlim(-.433, .2545)
ax.set_ylim(-.4426, .330)
for p, c in [(prev_ellipse, '#fbf8d2'), (bact_ellipse, '#b8e2ee')]:
    ex, ey = ellipse_xy(p)
    ax.fill(ex, ey, color=c, lw=0, zorder=1)
for cen, sets in [(prev_centre, [(prev_healthy_x, prev_healthy_y), (prev_asym_x, prev_asym_y), (prev_patient_x, prev_patient_y)]),
                  (bact_centre, [(bact_healthy_x, bact_healthy_y), (bact_asym_x, bact_asym_y), (bact_patient_x, bact_patient_y)])]:
    for xs, ys_ in sets:
        for x, y in zip(xs, ys_):
            ax.plot([x, cen[0]], [y, cen[1]], color='#555555', lw=1.1, dashes=(3, 2.5), zorder=2)
    for (xs, ys_), m, col, sz in zip(sets, ['o', '^', 'd'], [M_GREEN, M_RED, M_BLUE], [52, 78, 62]):
        ax.scatter(xs, ys_, s=sz, marker=m, color=col, lw=0, zorder=3)
    ax.scatter(*cen, s=40, marker='*', color='#555555', lw=0, zorder=3)
ax.set_xticks([-.4, -.2, 0, .2], ['-0.4', '-0.2', '0.0', '0.2'], fontsize=17.5)
ax.set_yticks([.2, 0, -.2, -.4], ['0.2', '0.0', '-0.2', '-0.4'], fontsize=17.5)
ax.set_xticks([-.433, .2545], minor=True)
ax.set_yticks([.330], minor=True)
ax.tick_params(which='both', length=4, width=1.3, pad=4)
for s in ['top', 'right']:
    ax.spines[s].set_visible(False)
for s in ['left', 'bottom']:
    ax.spines[s].set_linewidth(1.5)
ax.patch.set_alpha(0)

ins = px_axes(1156, 1878, 1333, 2026, zorder=5)
ins.bar(range(3), inset_prevotella, width=.49, color='#f04438')
ins.bar(range(3), inset_bacteroides, width=.49, bottom=inset_prevotella, color='#2f9144')
for i in range(3):
    ins.text(i, inset_prevotella[i] / 2, str(inset_prevotella[i]), color='white', fontsize=13.5, ha='center', va='center')
    ins.text(i, inset_prevotella[i] + inset_bacteroides[i] / 2, str(inset_bacteroides[i]), color='white', fontsize=13.5, ha='center', va='center')
ins.set_xlim(-.5, 2.49)
ins.set_ylim(0, 12)
ins.set_yticks(range(0, 13, 2), [str(v) for v in range(0, 13, 2)], fontsize=8.5)
ins.set_xticks([])
ins.tick_params(axis='y', length=0, pad=2)
for s in ['top', 'right']:
    ins.spines[s].set_visible(False)
for s in ['left', 'bottom']:
    ins.spines[s].set_color('#cfcfcf')
page.text(1121, 1952, 'Category', fontsize=11.5, rotation=90, ha='center', va='center', color='#333333')
for g, x, c in zip(inset_groups, [1181.5, 1245, 1306.6], [GREEN, RED, BLUE]):
    page.text(x, 2038, g, color=c, fontsize=8.6, ha='center', va='center')
for lab, y, c in [('g__Bacteroides', 1890, '#2f9144'), ('g__Prevotella', 1904, '#f04438')]:
    page.add_patch(Rectangle((1331, y - 6.5), 16, 13, fc=c, ec='none'))
    page.text(1351, y, lab, fontsize=7.6, va='center', color='#222222')

for y, m, col, sz, lab, tc in [(1671, 'o', M_GREEN, 150, 'Healthy', GREEN), (1706, '^', M_RED, 230, 'Asymptomatic', RED),
                               (1741, 'd', M_BLUE, 190, 'Patient', BLUE)]:
    page.scatter(1627.5, y, s=sz, marker=m, color=col, lw=0)
    page.text(1647, y + 2, lab, color=tc, fontsize=19, va='center')
page.text(1621, 1779, 'Type', fontsize=17, fontweight='bold', va='center')
for lab, y, c in [('g_Bacteroides', 1816, '#b0dfee'), ('g_Prevotella', 1853, '#fbf8d2')]:
    page.add_patch(Rectangle((1619, y - 9.5), 17.6, 19, fc=c, ec='none'))
    page.text(1647, y + 1, lab, fontsize=16.5, va='center')

fig.savefig('out.png', dpi=100)
